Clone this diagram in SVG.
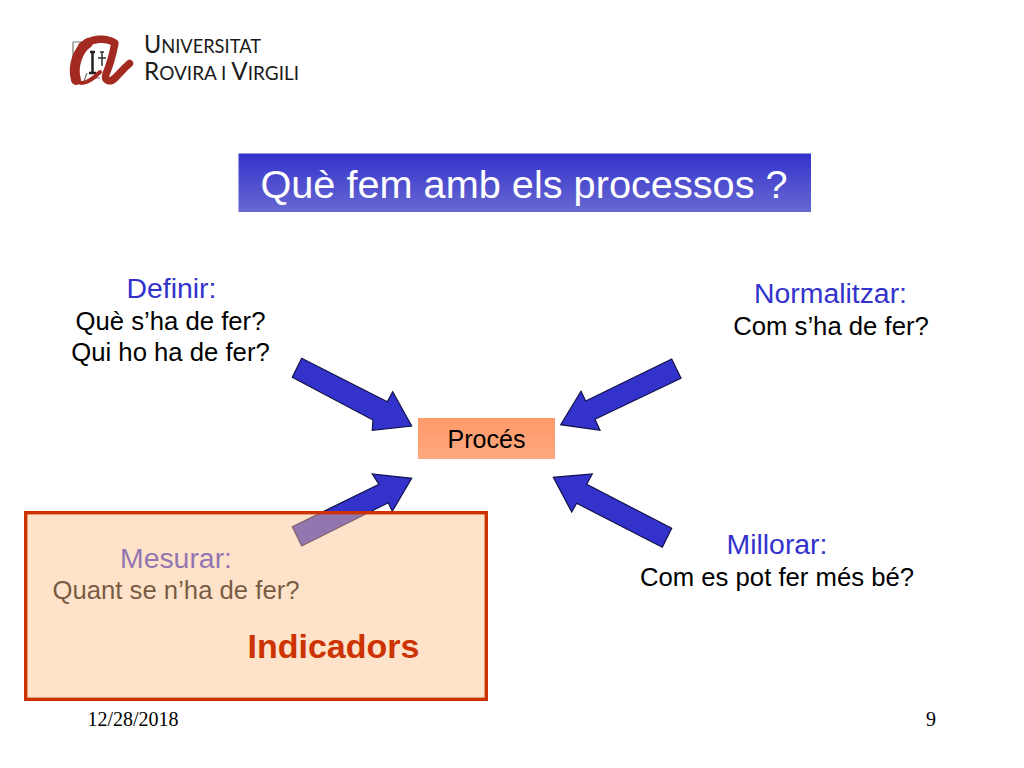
<svg xmlns="http://www.w3.org/2000/svg" width="1024" height="768" viewBox="0 0 1024 768">
<style>
text{font-family:"Liberation Sans",Arial,sans-serif;text-anchor:middle}
.h{font-size:28.400px;fill:#3333cc}
.s{font-size:25.700px;fill:#000}
.arrow{fill:#3333cc;stroke:#10104a;stroke-width:1.2;stroke-linejoin:miter}
.foot{font-family:"Liberation Serif","Times New Roman",serif;font-size:20px;fill:#000}
.logo{font-family:Lato,"Liberation Sans",sans-serif;font-size:19.500px;fill:#1a1a1a;text-anchor:start}
.logo tspan{font-size:25px}
</style>
<defs>
<linearGradient id="tg" x1="0" y1="0" x2="0" y2="1"><stop offset="0" stop-color="#3333cc"/><stop offset="1" stop-color="#6868d2"/></linearGradient>
<linearGradient id="pg" x1="0" y1="0" x2="0" y2="1"><stop offset="0" stop-color="#ff9a68"/><stop offset="1" stop-color="#ffa880"/></linearGradient>
</defs>
<rect width="1024" height="768" fill="#fff"/>

<g id="logo">
<path d="M73 42V66M73 42H82M87 73L84 81M92 78H100" fill="none" stroke="#777" stroke-width="1.2"/>
<path d="M90 52L95 52M92.500 52V73M89 73H96" fill="none" stroke="#222" stroke-width="2.500"/>
<path d="M100 52H104M102 52V66M98 58H106" fill="none" stroke="#333" stroke-width="1.500"/>
<path d="M76 80C72 66 78 50 88 43" fill="none" stroke="#a32a20" stroke-width="10" stroke-linecap="round"/>
<path d="M82 46C92 38 106 37 115 43C113 53 110 65 106 74C104 81 110 83 115 78C120 73 123 69 129.500 63.500" fill="none" stroke="#a32a20" stroke-width="7.500" stroke-linecap="round" stroke-linejoin="round"/>
<path d="M78 82C84 85 92 80 100 72" fill="none" stroke="#a32a20" stroke-width="4" stroke-linecap="round"/>
<text class="logo" x="144" y="52.500" textLength="117" lengthAdjust="spacingAndGlyphs"><tspan>U</tspan>NIVERSITAT</text>
<text class="logo" x="144" y="80" textLength="155" lengthAdjust="spacingAndGlyphs"><tspan>R</tspan>OVIRA I <tspan>V</tspan>IRGILI</text>
</g>

<g id="title">
<rect x="238.500" y="153.500" width="572.500" height="58.500" fill="url(#tg)"/>
<text x="524" y="197.500" font-size="39.700" fill="#fff">Què fem amb els processos ?</text>
</g>

<g id="proces">
<rect x="418" y="418" width="137" height="41" fill="url(#pg)"/>
<text x="486.500" y="448" font-size="25px" fill="#000">Procés</text>
</g>

<g id="connectors">
<polygon class="arrow" points="301.700,358.300 292.300,377.300 373,420 372.300,430.300 411.700,426 392.700,391.700 387.300,401.700"/>
<polygon class="arrow" points="671.700,359 681,378.300 595,419.300 600,430.300 560.700,424.700 581,391.300 585.700,401"/>
<polygon class="arrow" points="292.300,526.700 301.700,546 388.300,502.700 392.300,511.300 411.700,478.300 372.300,474 379,484.300"/>
<polygon class="arrow" points="671.700,528.300 662.300,547.300 576.700,503.300 571.700,512 553.300,477.300 592.300,474 586.700,484.300"/>
</g>

<g id="definir">
<text class="h" x="171.500" y="298">Definir:</text>
<text class="s" x="170.500" y="330">Què s’ha de fer?</text>
<text class="s" x="170.500" y="361">Qui ho ha de fer?</text>
</g>
<g id="normalitzar">
<text class="h" x="830.500" y="303">Normalitzar:</text>
<text class="s" x="831" y="335">Com s’ha de fer?</text>
</g>
<g id="millorar">
<text class="h" x="777" y="554">Millorar:</text>
<text class="s" x="777" y="586">Com es pot fer més bé?</text>
</g>
<g id="mesurar">
<text class="h" x="176" y="568">Mesurar:</text>
<text class="s" x="176" y="599">Quant se n’ha de fer?</text>
</g>

<g id="indicadors">
<rect x="25.700" y="512.700" width="460.600" height="186.600" fill="#fdc28f" fill-opacity=".47" stroke="#cc3300" stroke-width="3.400"/>
<text x="333.500" y="658" font-size="34px" font-weight="bold" fill="#cc3300">Indicadors</text>
</g>

<g id="footer">
<text class="foot" x="133" y="726">12/28/2018</text>
<text class="foot" x="931" y="726">9</text>
</g>
</svg>
